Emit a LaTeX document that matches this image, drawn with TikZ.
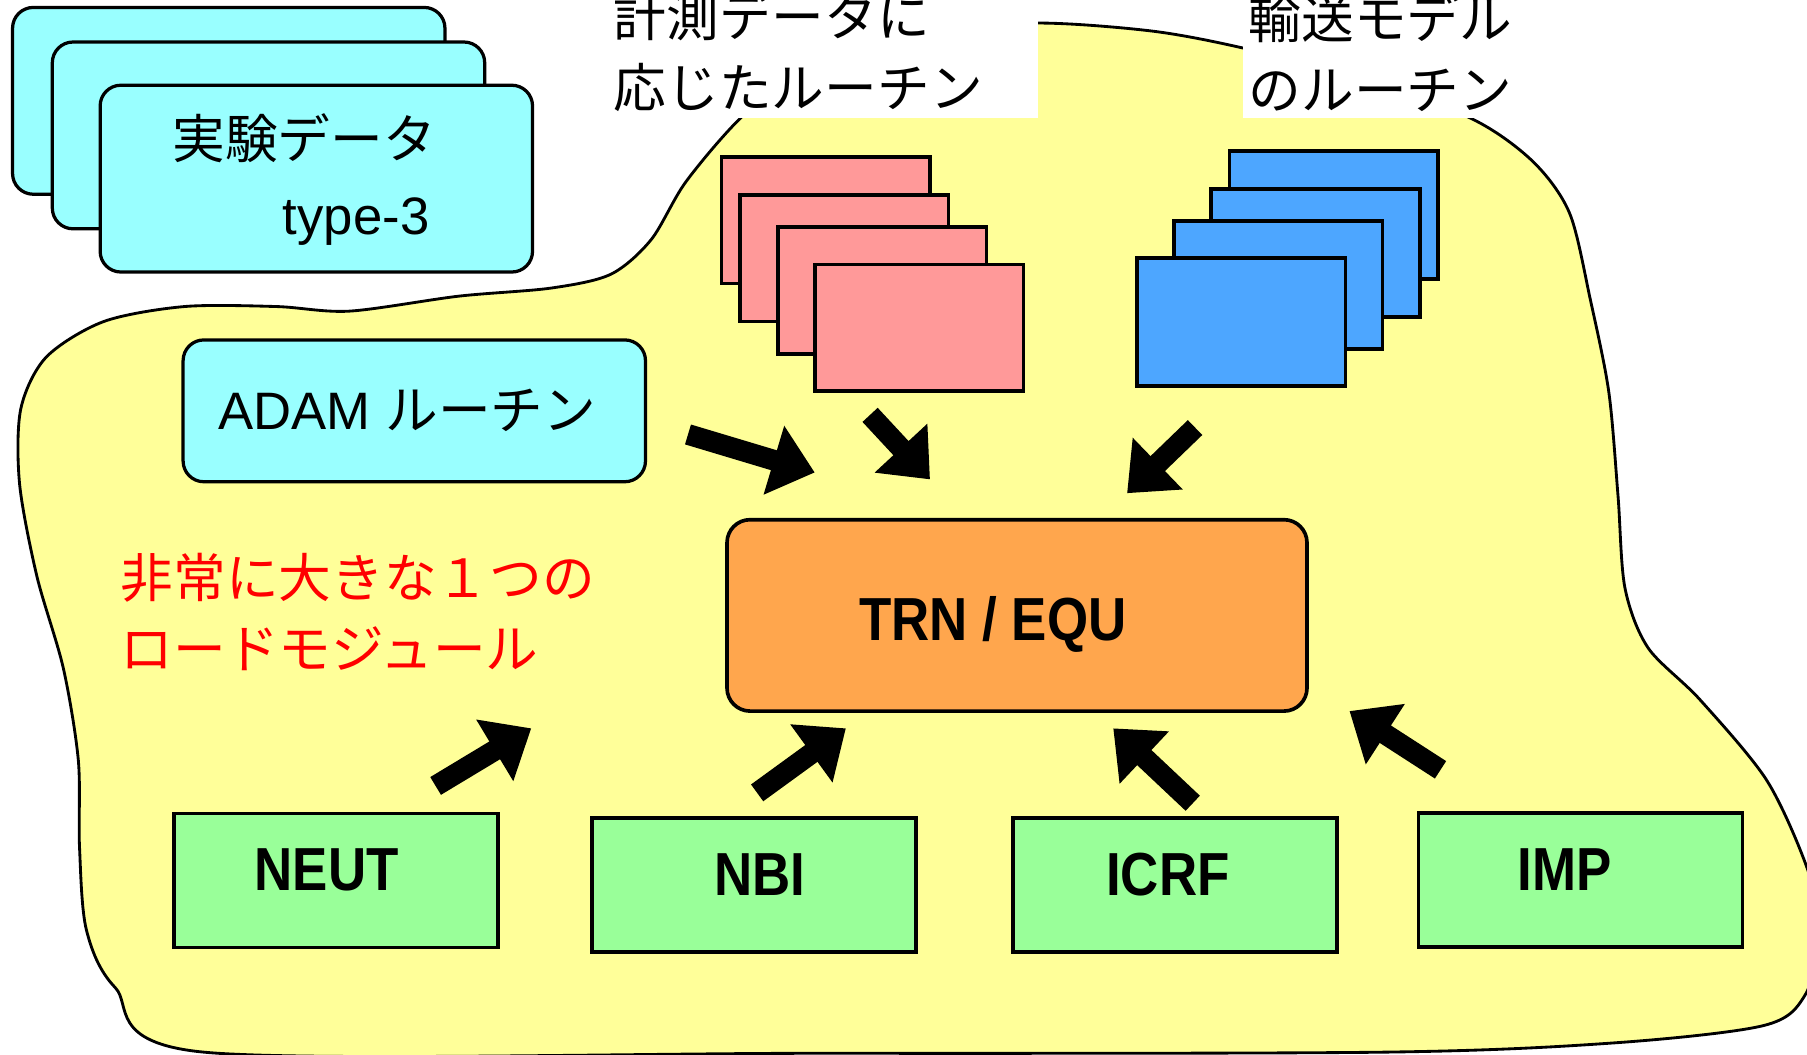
\documentclass[tikz,border=0pt]{standalone}
\usepackage{fontspec}
\setmainfont{Liberation Sans}
\newfontfamily\jp{Noto Sans CJK JP}
\newfontfamily\lbl[FakeStretch=0.87]{Liberation Sans}
\usetikzlibrary{arrows.meta}

\definecolor{blobyellow}{HTML}{FFFF99}
\definecolor{cardcyan}{HTML}{99FFFF}
\definecolor{sheetpink}{HTML}{FF9999}
\definecolor{sheetblue}{HTML}{4DA6FF}
\definecolor{coreorange}{HTML}{FFA64D}
\definecolor{modgreen}{HTML}{99FF99}

\begin{document}
\begin{tikzpicture}[x=0.01cm, y=-0.01cm,
    every node/.style={font=\fontsize{13}{17.6}\selectfont},
    card/.style={draw, line width=0.8pt, rounded corners=0.18cm, fill=cardcyan,
      minimum width=3.75cm, minimum height=1.62cm},
    sheet/.style={draw, line width=0.9pt, minimum width=1.81cm, minimum height=1.1cm},
    module/.style={draw, line width=0.9pt, fill=modgreen, minimum width=2.81cm,
      minimum height=1.16cm, text height=0.38cm, text depth=0.2cm,
      font=\lbl\bfseries\fontsize{15}{18}\selectfont},
    tag/.style={fill=white, align=left, inner xsep=0.05cm, inner ysep=0.05cm,
      font=\jp\fontsize{13}{17.6}\selectfont},
    fat/.style={line width=0.18cm, -{Triangle[length=0.37cm, width=0.6cm]}}]

  \useasboundingbox (0,0) rectangle (1568,915);

  \draw[fill=blobyellow, line width=0.7pt] plot[smooth cycle] coordinates {
    (642,103) (700,55) (800,28) (900,20) (1000,27) (1080,42) (1180,68)
    (1277,103) (1330,140) (1362,185) (1380,260) (1396,340) (1404,430)
    (1410,510) (1430,562) (1475,607) (1533,677) (1568,753) (1580,810)
    (1566,864) (1530,890) (1400,905) (1200,913) (700,914) (177,913)
    (100,857) (75,807) (69,735) (68,660) (55,580) (32,500) (17,420)
    (18,355) (40,310) (90,279) (160,266) (240,266) (303,270) (398,257)
    (478,250) (530,238) (565,208) (595,158)};

  \node[tag, anchor=south west, text width=3.56cm, inner xsep=0.12cm] (measlabel) at (520,103)
    {計測データに\\応じたルーチン};
  \node[tag, anchor=south west, text width=2.3cm] (translabel) at (1078,103)
    {輸送モデル\\のルーチン};

  \node[card] (exp1) at (198.5,87.5) {};
  \node[card] (exp2) at (233,117.5) {};
  \node[card] (exp3) at (274.5,155) {};
  \node[font=\jp\fontsize{13}{17.6}\selectfont] (exptitle) at (264,120) {実験データ};
  \node (exptype) at (309,192) {type-3};

  \node[card, minimum width=4.01cm, minimum height=1.23cm] (adam) at (359.5,356.5)
    {ADAM {\jp ルーチン}\hspace*{0.12cm}};

  \foreach \i/\x/\y in {1/716.5/191, 2/732.5/224, 3/765.5/252, 4/797.5/284.5}
    \node[sheet, fill=sheetpink] (meas\i) at (\x,\y) {};
  \foreach \i/\x/\y in {1/1157.5/186.5, 2/1141.5/219.5, 3/1109/247.5, 4/1077/279.5}
    \node[sheet, fill=sheetblue, minimum height=1.11cm] (trans\i) at (\x,\y) {};

  \node[draw, line width=0.9pt, rounded corners=0.2cm, fill=coreorange,
    minimum width=5.03cm, minimum height=1.66cm, text height=0.44cm, text depth=0cm,
    font=\lbl\bfseries\fontsize{15}{18}\selectfont] (core) at (882.5,534)
    {TRN / EQU\hspace*{0.42cm}};

  \node[anchor=west, align=left, inner sep=0pt, text=red,
    font=\jp\fontsize{13}{17.6}\selectfont] (note) at (104,531)
    {非常に大きな１つの\\ロードモジュール};

  \node[module] (neut) at (291.5,764) {NEUT\hspace*{0.16cm}};
  \node[module] (nbi) at (654.5,768) {\hspace*{0.1cm}NBI};
  \node[module] (icrf) at (1019.5,768) {ICRF\hspace*{0.12cm}};
  \node[module] (imp) at (1371.5,763.5) {IMP\hspace*{0.28cm}};

  \coordinate (a1) at (597,377);  \coordinate (b1) at (707,410);
  \coordinate (a2) at (755,360);  \coordinate (b2) at (807,416);
  \coordinate (a3) at (1037,371); \coordinate (b3) at (978,428);
  \coordinate (a4) at (378,682);  \coordinate (b4) at (461,632);
  \coordinate (a5) at (657,688);  \coordinate (b5) at (734,632);
  \coordinate (a6) at (1035,697); \coordinate (b6) at (966,632);
  \coordinate (a7) at (1250,668); \coordinate (b7) at (1171,617);

  \foreach \i in {1,...,7}
    \draw[fat] (a\i) -- (b\i);

\end{tikzpicture}
\end{document}
